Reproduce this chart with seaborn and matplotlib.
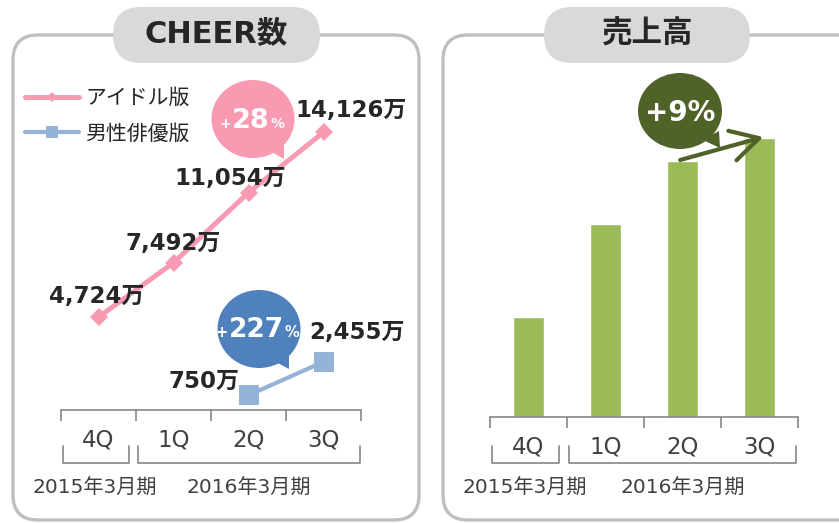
import matplotlib.pyplot as plt
import matplotlib.transforms as mtransforms
from matplotlib.patches import FancyBboxPatch, Ellipse, Polygon
import seaborn as sns

quarters = ['4Q', '1Q', '2Q', '3Q']
idol_cheer = [4724, 7492, 11054, 14126]      # 万
actor_quarters = ['2Q', '3Q']
actor_cheer = [750, 2455]                    # 万
sales = [100, 193, 256, 279]                 # index
years = ['2015年3月期', '2016年3月期']

PINK = '#F79AB2'
BLUE_LINE = '#95B3D7'
BLUE = '#4F81BD'
GREEN = '#9BBB59'
OLIVE = '#4F6228'
TEXT = '#262626'
AXIS_TEXT = '#404040'
GRID = '#868686'

sns.set_style('white')
plt.rcParams['font.family'] = ['DejaVu Sans', 'Noto Sans CJK JP']

W, H = 839, 523
fig = plt.figure(figsize=(W / 100, H / 100), dpi=100)
# pixel coords, y measured from the top
PX = mtransforms.Affine2D().scale(1 / W, -1 / H).translate(0, 1) + fig.transFigure


def rect(x0, y0, x1, y1):
    return [x0 / W, 1 - y1 / H, (x1 - x0) / W, (y1 - y0) / H]


# panels with their title pills
for (x0, x1), (p0, p1), title in [((13, 419), (113, 320), 'CHEER数'),
                                   ((443, 880), (544, 750), '売上高')]:
    fig.patches.append(FancyBboxPatch((x0, 35), x1 - x0, 485, boxstyle='round,pad=0,rounding_size=25',
                                      transform=PX, fc='white', ec='#BFBFBF', lw=2.4, zorder=-2))
    fig.patches.append(FancyBboxPatch((p0, 7), p1 - p0, 56, boxstyle='round,pad=0,rounding_size=28',
                                      transform=PX, fc='#D9D9D9', ec='none', zorder=-1))
    fig.text((p0 + p1) / 2, 34, title, transform=PX, ha='center', va='center',
             fontsize=22, fontweight='bold', color=TEXT)


def style_axis(ax):
    ax.set_facecolor('none')
    ax.set_xlim(-0.5, 3.5)
    ax.set_xticks(range(len(quarters)), quarters)
    ax.set_xticks([i - 0.5 for i in range(len(quarters) + 1)], minor=True)
    ax.tick_params(axis='x', which='major', bottom=True, length=0, pad=13, labelsize=16.5,
                   labelcolor=AXIS_TEXT)
    ax.tick_params(axis='x', which='minor', bottom=True, length=8, width=1.2, color=GRID,
                   direction='out')
    ax.set_yticks([])
    ax.set_xlabel('')
    ax.set_ylabel('')
    for s in ['left', 'right', 'top']:
        ax.spines[s].set_visible(False)
    ax.spines['bottom'].set_color(GRID)
    ax.spines['bottom'].set_linewidth(1.2)
    # fiscal-year brackets
    tr = mtransforms.blended_transform_factory(ax.transData, PX)
    for (b0, b1), xc, yr in zip([(-0.47, 0.40), (0.53, 3.48)], [-0.05, 2.0], years):
        ax.plot([b0, b0, b1, b1], [446, 463, 463, 446], transform=tr, color=GRID,
                lw=1.2, clip_on=False)
        ax.text(xc, 488, yr, transform=tr, ha='center', va='center', fontsize=14.5, color=AXIS_TEXT)


def bubble(cx, cy, w, h, tail, color):
    fig.patches.append(Ellipse((cx, cy), w, h, transform=PX, fc=color, ec='none', zorder=3))
    fig.patches.append(Polygon(tail, closed=True, transform=PX, fc=color, ec='none', zorder=3))


renderer = fig.canvas.get_renderer()


def bubble_label(cx, base, num, big, small):
    t = fig.text(cx, base, num, transform=PX, ha='center', va='baseline', color='white',
                 fontsize=big, fontweight='bold', zorder=5)
    bb = t.get_window_extent(renderer)
    fig.text(bb.x0 - 1, base, '+', transform=PX, ha='right', va='baseline', color='white',
             fontsize=small, fontweight='bold', zorder=5)
    fig.text(bb.x1 + 1, base, '%', transform=PX, ha='left', va='baseline', color='white',
             fontsize=small, fontweight='bold', zorder=5)


# ---- left: CHEER count lines
ax1 = fig.add_axes(rect(61, 60, 361, 410))
idol_x = list(range(len(quarters)))
actor_x = [quarters.index(q) for q in actor_quarters]
sns.lineplot(x=idol_x, y=idol_cheer, ax=ax1, color=PINK, lw=3.6, marker='D', markersize=9.5,
             markeredgewidth=0, label='アイドル版')
sns.lineplot(x=actor_x, y=actor_cheer, ax=ax1, color=BLUE_LINE, lw=3.0, marker='s', markersize=14,
             markeredgewidth=0, label='男性俳優版')
ax1.set_ylim(0, 17800)
style_axis(ax1)

leg = ax1.legend(loc='upper left', bbox_to_anchor=(25, 88), bbox_transform=PX, frameon=False,
                 fontsize=15, handlelength=2.6, handletextpad=0.3, labelspacing=0.75,
                 borderpad=0, borderaxespad=0)
for h, ms in zip(leg.legend_handles, [5.5, 8.5]):
    h.set_markersize(ms)
for t in leg.get_texts():
    t.set_color(TEXT)

offsets_idol = [(-1, 14.5), (0, 14), (-13, 10), (20, 16)]
for x, v, off in zip(idol_x, idol_cheer, offsets_idol):
    ax1.annotate(f'{v:,}万', (x, v), xytext=off, textcoords='offset points', ha='center',
                 va='center', fontsize=16.5, fontweight='bold', color=TEXT, annotation_clip=False)
offsets_actor = [(-32, 10), (24, 21)]
for x, v, off in zip(actor_x, actor_cheer, offsets_actor):
    ax1.annotate(f'{v:,}万', (x, v), xytext=off, textcoords='offset points', ha='center',
                 va='center', fontsize=16.5, fontweight='bold', color=TEXT, annotation_clip=False)

bubble(253, 119, 83, 78, [(270, 151), (284, 143), (284, 159)], PINK)
bubble_label(251, 128, '28', 19.5, 10)
bubble(259, 329, 83, 78, [(274, 361), (289, 352), (289, 369)], BLUE)
bubble_label(256, 337, '227', 19, 10.5)

# ---- right: sales bars
ax2 = fig.add_axes(rect(490, 60, 798, 417))
sns.barplot(x=quarters, y=sales, ax=ax2, color=GREEN, width=0.4, saturation=1)
ax2.set_ylim(0, 357)
style_axis(ax2)

ax2.annotate('', xy=(3.05, sales[3] + 1), xytext=(1.97, sales[2] + 1),
             arrowprops=dict(arrowstyle='->,head_length=1.0,head_width=0.55', mutation_scale=20,
                             color=OLIVE, lw=3, shrinkA=0, shrinkB=0),
             annotation_clip=False)
bubble(680, 111, 84, 76, [(703, 140), (719, 131), (720, 148)], OLIVE)
fig.text(680, 121, '+9%', transform=PX, ha='center', va='baseline', color='white',
         fontsize=20, fontweight='bold', zorder=5)

fig.savefig('out.png', dpi=100)
